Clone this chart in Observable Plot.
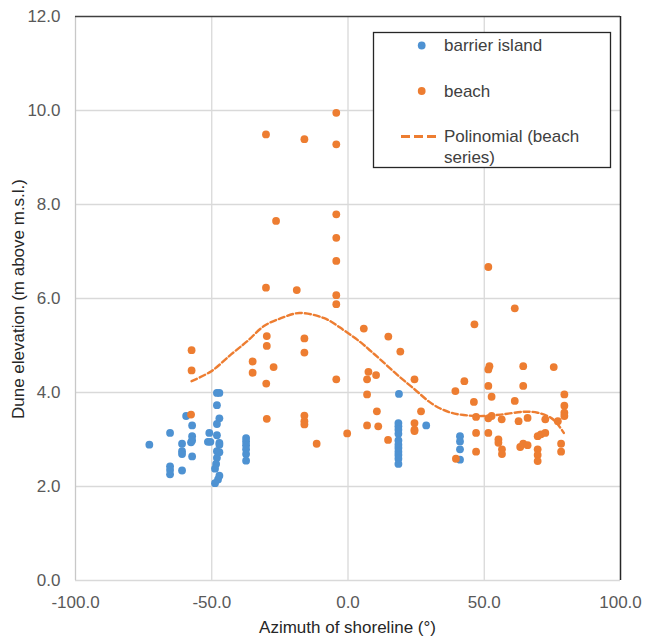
<!DOCTYPE html>
<html>
<head>
<meta charset="utf-8">
<script src="https://cdn.jsdelivr.net/npm/d3@7"></script>
<script src="https://cdn.jsdelivr.net/npm/@observablehq/plot@0.6"></script>
<style>
  html, body { margin: 0; padding: 0; background: #fff; }
  #chart { width: 646px; height: 638px; }
</style>
</head>
<body>
<div id="chart"></div>
<script>
// ---- data ----
const seriesNames = ["barrier island", "beach", "Polinomial (beach series)"];

const barrierX = [-72.9, -65.3, -65.3, -65.3, -65.3, -60.9, -60.9, -60.9, -60.9, -59.4,
  -57.2, -57.2, -57.2, -57.6, -57.2, -50.9, -51.4, -50.5, -48.1, -47.2,
  -48.1, -47.2, -48.1, -48.1, -47.2, -47.2, -48.1, -47.2, -48.1, -48.4,
  -48.8, -47.2, -47.7, -48.8, -37.4, -37.4, -37.4, -37.4, -37.4, -37.4,
  18.7, 18.5, 18.5, 18.5, 18.5, 18.5, 18.5, 18.5, 18.5, 18.5, 18.5, 18.5,
  28.7, 41.1, 41.1, 41.1, 41.1];
const barrierY = [2.89, 3.14, 2.43, 2.35, 2.26, 2.91, 2.75, 2.69, 2.34, 3.50,
  3.30, 3.07, 2.98, 2.94, 2.64, 3.14, 2.95, 2.95, 3.99, 3.99,
  3.73, 3.45, 3.33, 3.09, 2.93, 2.89, 2.75, 2.73, 2.61, 2.48,
  2.38, 2.23, 2.15, 2.07, 3.03, 2.96, 2.88, 2.79, 2.69, 2.55,
  3.97, 3.35, 3.28, 3.21, 3.12, 2.98, 2.89, 2.82, 2.74, 2.67, 2.59, 2.48,
  3.30, 3.07, 2.96, 2.79, 2.57];

const beachX = [-57.6, -57.4, -57.4, -35.0, -35.0, -30.0, -29.8, -30.1, -30.1, -29.8,
  -29.8, -27.3, -26.4, -18.8, -16.0, -16.0, -16.0, -16.0, -16.0, -16.0,
  -11.5, -4.3, -4.3, -4.3, -4.3, -4.3, -4.3, -4.3, -4.3, -0.3,
  5.8, 7.5, 7.0, 10.3, 7.0, 7.0, 10.6, 11.1, 14.7, 14.8,
  19.2, 24.4, 24.4, 24.4, 24.4, 26.8, 39.4, 39.6, 42.7, 46.4,
  46.2, 47.0, 47.0, 47.0, 51.5, 51.9, 51.5, 51.5, 52.7, 51.5,
  52.7, 51.5, 56.4, 55.2, 55.2, 56.5, 56.5, 61.2, 61.2, 62.6,
  64.3, 64.3, 65.9, 63.2, 64.3, 65.9, 69.6, 69.6, 69.6, 69.6,
  70.8, 72.4, 72.4, 75.5, 77.0, 78.2, 78.2, 79.4, 79.4, 79.4, 79.4];
const beachY = [3.53, 4.90, 4.47, 4.66, 4.42, 4.19, 3.44, 9.49, 6.23, 5.20,
  4.99, 4.54, 7.65, 6.18, 9.39, 5.15, 4.85, 3.51, 3.39, 3.32,
  2.91, 9.95, 9.28, 7.79, 7.29, 6.80, 6.07, 5.88, 4.28, 3.13,
  5.36, 4.44, 4.28, 4.37, 3.96, 3.30, 3.60, 3.28, 2.99, 5.19,
  4.87, 4.28, 3.35, 3.21, 3.18, 3.60, 4.03, 2.59, 4.24, 5.45,
  3.80, 3.48, 3.14, 2.74, 6.67, 4.56, 4.49, 4.14, 3.91, 3.45,
  3.50, 3.14, 3.43, 3.00, 2.93, 2.79, 2.69, 5.79, 3.82, 3.39,
  4.56, 4.14, 3.46, 2.84, 2.91, 2.88, 2.79, 2.67, 2.54, 3.07,
  3.11, 3.14, 3.43, 4.54, 3.39, 2.91, 2.74, 3.96, 3.72, 3.57, 3.50];

// trend line points
const trendX = [-57.4, -50.0, -42.9, -36.8, -30.7, -24.6, -17.9, -8.7, -1.4, 4.8, 8.4, 12.1, 18.0, 24.4, 31.1, 37.8, 46.4, 50.0, 56.1, 64.7, 69.6, 74.5, 77.0, 79.2];
const trendY = [4.24, 4.46, 4.81, 5.10, 5.42, 5.58, 5.69, 5.58, 5.32, 5.06, 4.88, 4.69, 4.38, 4.07, 3.75, 3.57, 3.50, 3.50, 3.53, 3.59, 3.57, 3.46, 3.32, 3.14];

const xTicks = [-100, -50, 0, 50, 100];
const yTicks = [0, 2, 4, 6, 8, 10, 12];
const xTitle = "Azimuth of shoreline (°)";
const yTitle = "Dune elevation (m above m.s.l.)";

// ---- tables ----
const barrier = barrierX.map((x, i) => ({x, y: barrierY[i]}));
const beach = beachX.map((x, i) => ({x, y: beachY[i]}));
const trend = trendX.map((x, i) => ({x, y: trendY[i]}));

const BLUE = "#4e92d2";
const ORANGE = "#ed7d31";
const FONT = "'Liberation Sans', Arial, sans-serif";

const chart = Plot.plot({
  width: 646,
  height: 638,
  marginLeft: 75,
  marginRight: 26,
  marginTop: 16,
  marginBottom: 58,
  style: {fontFamily: FONT, fontSize: "17px", color: "#595959", background: "#fff"},
  x: {domain: [-100, 100], label: null},
  y: {domain: [0, 12], label: null},
  marks: [
    Plot.ruleX([-50, 0, 50], {stroke: "#d9d9d9", strokeWidth: 1.3}),
    Plot.ruleY([0, 2, 4, 6, 8, 10], {stroke: "#d9d9d9", strokeWidth: 1.3}),
    Plot.ruleX([-100], {stroke: "#c8c8c8", strokeWidth: 1.3}),
    Plot.ruleY([12], {stroke: "#404040", strokeWidth: 1.3}),
    Plot.ruleX([100], {stroke: "#262626", strokeWidth: 1.5}),
    Plot.axisX({ticks: xTicks, tickSize: 0, tickPadding: 15, tickFormat: d => d.toFixed(1), fill: "#595959", label: null}),
    Plot.axisY({ticks: yTicks, tickSize: 0, tickPadding: 15, tickFormat: d => d.toFixed(1), fill: "#595959", label: null}),
    Plot.dot(barrier, {x: "x", y: "y", r: 3.9, fill: BLUE, stroke: "none"}),
    Plot.dot(beach, {x: "x", y: "y", r: 3.9, fill: ORANGE, stroke: "none"}),
    Plot.line(trend, {x: "x", y: "y", curve: "catmull-rom", stroke: ORANGE, strokeWidth: 2.4, strokeDasharray: "6,3"})
  ]
});

document.getElementById("chart").appendChild(chart);

// ---- titles and legend ----
const svg = d3.select(chart);
svg.append("text")
  .attr("x", 347.5).attr("y", 627).attr("text-anchor", "middle").attr("dominant-baseline", "central")
  .attr("font-family", FONT).attr("font-size", 17).attr("fill", "#262626").text(xTitle);
svg.append("text")
  .attr("transform", "translate(18,299) rotate(-90)").attr("text-anchor", "middle").attr("dominant-baseline", "central")
  .attr("font-family", FONT).attr("font-size", 17).attr("fill", "#262626").text(yTitle);

const lg = svg.append("g").attr("text-anchor", "start");
lg.append("rect").attr("x", 373.5).attr("y", 32.5).attr("width", 237).attr("height", 135)
  .attr("fill", "#fff").attr("stroke", "#262626").attr("stroke-width", 1.3);
lg.append("circle").attr("cx", 421.7).attr("cy", 45.5).attr("r", 3.9).attr("fill", BLUE);
lg.append("circle").attr("cx", 421.7).attr("cy", 91).attr("r", 3.9).attr("fill", ORANGE);
lg.append("line").attr("x1", 401).attr("x2", 437).attr("y1", 136.5).attr("y2", 136.5)
  .attr("stroke", ORANGE).attr("stroke-width", 3).attr("stroke-dasharray", "9,4");
const lt = [[seriesNames[0], 45.5], [seriesNames[1], 91], ["Polinomial (beach", 136.5], ["series)", 157]];
lt.forEach(([t, y]) => {
  lg.append("text").attr("x", 444).attr("y", y).attr("dominant-baseline", "central").attr("text-anchor", "start")
    .attr("font-family", FONT).attr("font-size", 17).attr("fill", "#404040").text(t);
});
</script>
</body>
</html>
